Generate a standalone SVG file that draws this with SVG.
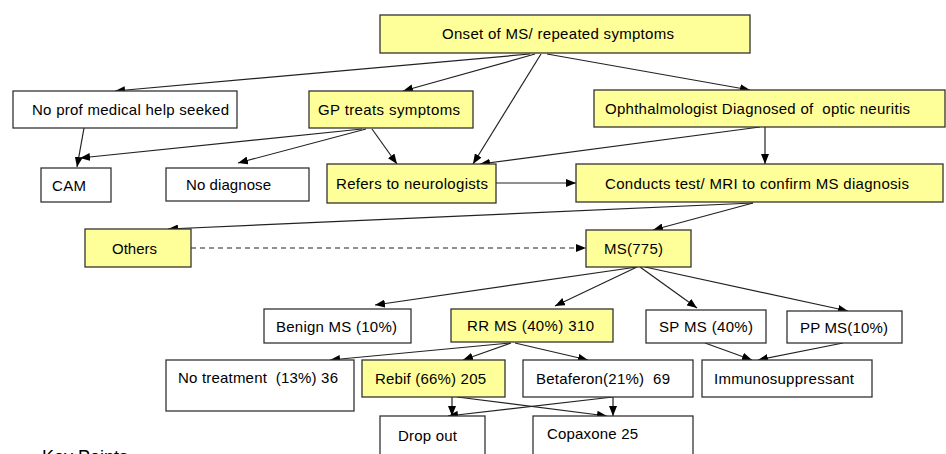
<svg xmlns="http://www.w3.org/2000/svg" width="946" height="454" viewBox="0 0 946 454">
<defs>
<marker id="ah" markerWidth="10" markerHeight="8" refX="10" refY="4" orient="auto" markerUnits="userSpaceOnUse">
<path d="M0,0 L10,4 L0,8 z" fill="#000"/>
</marker>
<style>
.b{fill:#fff;stroke:#333;stroke-width:1.3}
.y{fill:#ffff99;stroke:#333;stroke-width:1.3}
text{font-family:"Liberation Sans",Arial,sans-serif;font-size:15px;fill:#000}
.c line{stroke:#222;stroke-width:1.2;marker-end:url(#ah)}
.c line.d{stroke-dasharray:5,4}
</style>
</defs>
<rect width="946" height="454" fill="#fff"/>
<g class="c" id="connectors">
<line x1="530" y1="54" x2="115" y2="91"/>
<line x1="535" y1="54" x2="403" y2="91"/>
<line x1="541" y1="54" x2="473" y2="164"/>
<line x1="547" y1="54" x2="750" y2="90"/>
<line x1="84" y1="128" x2="77" y2="167"/>
<line x1="362" y1="129" x2="80" y2="158"/>
<line x1="366" y1="129" x2="238" y2="163"/>
<line x1="372" y1="129" x2="397" y2="164"/>
<line x1="760" y1="127" x2="480" y2="164"/>
<line x1="765" y1="127" x2="765" y2="164"/>
<line x1="496" y1="183" x2="576" y2="183"/>
<line x1="753" y1="203" x2="168" y2="229"/>
<line x1="753" y1="203" x2="653" y2="230"/>
<line class="d" x1="191" y1="248" x2="586" y2="248"/>
<line x1="637" y1="267" x2="375" y2="305"/>
<line x1="637" y1="267" x2="555" y2="306"/>
<line x1="640" y1="267" x2="697" y2="308"/>
<line x1="645" y1="267" x2="848" y2="311"/>
<line x1="510" y1="343" x2="330" y2="360"/>
<line x1="511" y1="343" x2="463" y2="360"/>
<line x1="515" y1="343" x2="588" y2="360"/>
<line x1="705" y1="343" x2="752" y2="360"/>
<line x1="843" y1="343" x2="758" y2="360"/>
<line x1="452" y1="397" x2="452" y2="416"/>
<line x1="457" y1="397" x2="607" y2="416"/>
<line x1="613" y1="397" x2="448" y2="416"/>
<line x1="613" y1="397" x2="613" y2="416"/>
</g>
<g id="onset"><rect class="y" x="380" y="15" width="370" height="38"/><text x="442" y="39" textLength="232">Onset of MS/ repeated symptoms</text></g>
<g id="noprof"><rect class="b" x="13" y="91" width="224" height="37"/><text x="32" y="115" textLength="197">No prof medical help seeked</text></g>
<g id="gp"><rect class="y" x="309" y="91" width="164" height="37"/><text x="318" y="115" textLength="142">GP treats symptoms</text></g>
<g id="ophth"><rect class="y" x="594" y="90" width="351" height="37"/><text x="605" y="114" textLength="305" xml:space="preserve">Ophthalmologist Diagnosed of  optic neuritis</text></g>
<g id="cam"><rect class="b" x="41" y="168" width="70" height="34"/><text x="52" y="191" textLength="34">CAM</text></g>
<g id="nodiag"><rect class="b" x="166" y="168" width="143" height="33"/><text x="186" y="190" textLength="85">No diagnose</text></g>
<g id="refers"><rect class="y" x="327" y="164" width="169" height="39"/><text x="336" y="189" textLength="152">Refers to neurologists</text></g>
<g id="conducts"><rect class="y" x="576" y="164" width="367" height="38"/><text x="605" y="189" textLength="304">Conducts test/ MRI to confirm MS diagnosis</text></g>
<g id="others"><rect class="y" x="85" y="229" width="106" height="38"/><text x="112" y="254" textLength="45">Others</text></g>
<g id="ms"><rect class="y" x="586" y="230" width="105" height="37"/><text x="604" y="254" textLength="59">MS(775)</text></g>
<g id="benign"><rect class="b" x="264" y="309" width="147" height="34"/><text x="276" y="332" textLength="121">Benign MS (10%)</text></g>
<g id="rr"><rect class="y" x="451" y="309" width="162" height="33"/><text x="467" y="331" textLength="127">RR MS (40%) 310</text></g>
<g id="sp"><rect class="b" x="646" y="310" width="120" height="33"/><text x="659" y="332" textLength="94">SP MS (40%)</text></g>
<g id="pp"><rect class="b" x="787" y="311" width="115" height="32"/><text x="800" y="333" textLength="88">PP MS(10%)</text></g>
<g id="notreat"><rect class="b" x="166" y="360" width="188" height="51"/><text x="178" y="383" textLength="160" xml:space="preserve">No treatment  (13%) 36</text></g>
<g id="rebif"><rect class="y" x="362" y="360" width="143" height="37"/><text x="375" y="384" textLength="111">Rebif (66%) 205</text></g>
<g id="betaferon"><rect class="b" x="523" y="360" width="170" height="37"/><text x="536" y="384" textLength="134" xml:space="preserve">Betaferon(21%)  69</text></g>
<g id="immuno"><rect class="b" x="702" y="360" width="170" height="37"/><text x="714" y="384" textLength="140">Immunosuppressant</text></g>
<g id="dropout"><rect class="b" x="380" y="416" width="105" height="50"/><text x="398" y="441" textLength="59">Drop out</text></g>
<g id="copaxone"><rect class="b" x="533" y="416" width="160" height="50"/><text x="547" y="439" textLength="91">Copaxone 25</text></g>
<text x="42" y="463" style="font-size:18px">Key Points</text>
</svg>
